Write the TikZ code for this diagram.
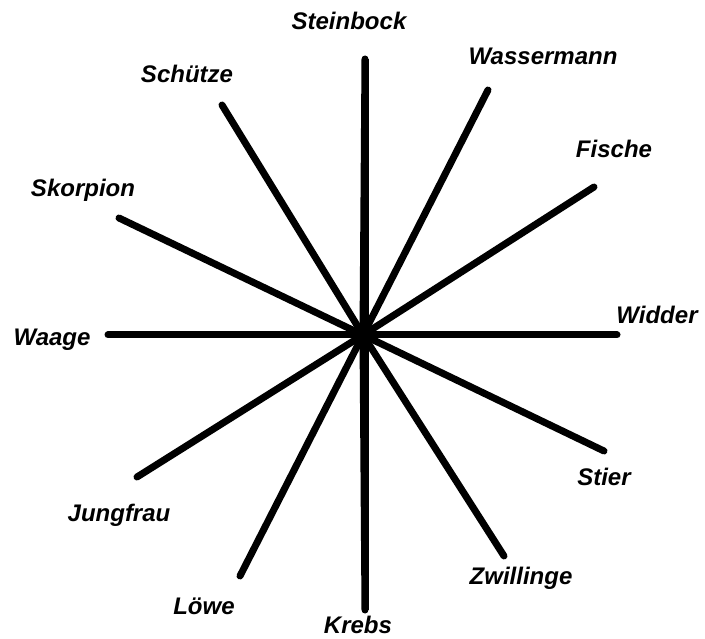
\documentclass[tikz,border=0pt]{standalone}
\usepackage{fontspec}
\setmainfont{Liberation Sans}
\begin{document}
\begin{tikzpicture}[x=1pt,y=-1pt,
  ray/.style={line width=7pt,line cap=round},
  lab/.style={font=\fontsize{24}{28}\selectfont\bfseries\itshape,inner sep=0pt}]
\useasboundingbox (0,0) rectangle (705,639);
\coordinate (c) at (363,335);
\coordinate (e1) at (365,59);
\coordinate (e2) at (488,90);
\coordinate (e3) at (594,187);
\coordinate (e4) at (617,335);
\coordinate (e5) at (604,451);
\coordinate (e6) at (504,556);
\coordinate (e7) at (365,610);
\coordinate (e8) at (240,576);
\coordinate (e9) at (137,477);
\coordinate (e10) at (108,335);
\coordinate (e11) at (119,218);
\coordinate (e12) at (222,105);
\foreach \i in {1,...,12} \draw[ray] (c) -- (e\i);
\draw[line width=7pt] (e10) -- (e4);
\draw[line width=7pt] (e1) -- (e7);
\node[lab] (n1) at (349,21) {Steinbock};
\node[lab] (n2) at (543,56) {Wassermann};
\node[lab] (n3) at (614,149) {Fische};
\node[lab] (n4) at (657,315) {Widder};
\node[lab] (n5) at (604,477) {Stier};
\node[lab] (n6) at (521,578) {Zwillinge};
\node[lab] (n7) at (358,625) {Krebs};
\node[lab] (n8) at (204,606) {Löwe};
\node[lab] (n9) at (119,515) {Jungfrau};
\node[lab] (n10) at (52,340) {Waage};
\node[lab] (n11) at (83,190) {Skorpion};
\node[lab] (n12) at (187,74) {Schütze};
\end{tikzpicture}
\end{document}
